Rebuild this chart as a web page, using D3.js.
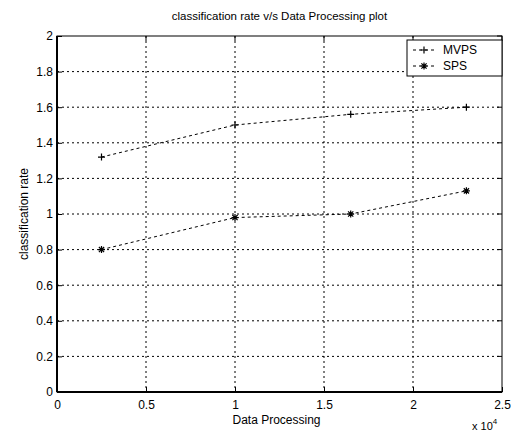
<!DOCTYPE html>
<html>
<head>
<meta charset="utf-8">
<script src="https://cdn.jsdelivr.net/npm/d3@7"></script>
<style>
  body{margin:0;background:#fff;}
  svg{display:block;font-family:"Liberation Sans",Arial,sans-serif;}
  .axis text{font-size:12px;fill:#000;}
</style>
</head>
<body>
<div id="chart"></div>
<script>
// data (x in units of 10^4)
const xVals=[0.25,1.0,1.65,2.3];
const mvps=[1.32,1.50,1.56,1.60];
const sps=[0.80,0.98,1.00,1.13];
const xTicks=[0,0.5,1,1.5,2,2.5];
const yTicks=[0,0.2,0.4,0.6,0.8,1,1.2,1.4,1.6,1.8,2];
const seriesNames=['MVPS','SPS'];

const W=512,H=431,m={t:36,r:10,b:39,l:57};
const w=W-m.l-m.r,h=H-m.t-m.b;
const svg=d3.select('#chart').append('svg').attr('width',W).attr('height',H);
const g=svg.append('g').attr('transform',`translate(${m.l},${m.t})`);
const x=d3.scaleLinear().domain([0,2.5]).range([0,w]);
const y=d3.scaleLinear().domain([0,2]).range([h,0]);

// grid
g.selectAll('.gx').data(xTicks.slice(1,-1)).join('line').attr('class','gx')
  .attr('x1',d=>x(d)).attr('x2',d=>x(d)).attr('y1',0).attr('y2',h)
  .attr('stroke','#000').attr('stroke-width',1).attr('stroke-dasharray','2,3');
g.selectAll('.gy').data(yTicks.slice(1,-1)).join('line').attr('class','gy')
  .attr('x1',0).attr('x2',w).attr('y1',d=>y(d)).attr('y2',d=>y(d))
  .attr('stroke','#000').attr('stroke-width',1).attr('stroke-dasharray','2,3');

// axes
const fmt=d=>d3.format('~g')(d);
const xa=g.append('g').attr('class','axis').attr('transform',`translate(0,${h})`)
  .call(d3.axisBottom(x).tickValues(xTicks).tickSize(-5).tickPadding(8).tickFormat(fmt));
const ya=g.append('g').attr('class','axis')
  .call(d3.axisLeft(y).tickValues(yTicks).tickSize(-5).tickPadding(4).tickFormat(fmt));
[xa,ya].forEach(a=>{a.select('.domain').remove();a.selectAll('line').attr('stroke','#000');});
// box
g.append('rect').attr('x',0).attr('y',0).attr('width',w).attr('height',h)
  .attr('fill','none').attr('stroke','#000').attr('stroke-width',1);
g.append('line').attr('x1',0).attr('x2',0).attr('y1',0).attr('y2',h).attr('stroke','#000').attr('stroke-width',2);
g.append('line').attr('x1',0).attr('x2',w).attr('y1',h).attr('y2',h).attr('stroke','#000').attr('stroke-width',2);
// top ticks / right ticks
g.selectAll('.tt').data(xTicks).join('line').attr('class','tt')
  .attr('x1',d=>x(d)).attr('x2',d=>x(d)).attr('y1',0).attr('y2',5).attr('stroke','#000');
g.selectAll('.rt').data(yTicks).join('line').attr('class','rt')
  .attr('x1',w-5).attr('x2',w).attr('y1',d=>y(d)).attr('y2',d=>y(d)).attr('stroke','#000');

// series
const line=d3.line().x(d=>x(d[0])).y(d=>y(d[1]));
function plus(sel,cx,cy){
  sel.append('path').attr('d',`M${cx-3.5},${cy}H${cx+3.5}M${cx},${cy-3.5}V${cy+3.5}`).attr('stroke','#000').attr('stroke-width',1.2);
}
function star(sel,cx,cy){
  sel.append('path').attr('d',`M${cx-3.5},${cy}H${cx+3.5}M${cx},${cy-3.5}V${cy+3.5}M${cx-2.6},${cy-2.6}L${cx+2.6},${cy+2.6}M${cx-2.6},${cy+2.6}L${cx+2.6},${cy-2.6}`).attr('stroke','#000').attr('stroke-width',1.2);
}
[[mvps,plus],[sps,star]].forEach(([vals,mk])=>{
  const pts=xVals.map((v,i)=>[v,vals[i]]);
  g.append('path').datum(pts).attr('d',line).attr('fill','none')
    .attr('stroke','#000').attr('stroke-width',1).attr('stroke-dasharray','3,3');
  pts.forEach(p=>mk(g,x(p[0]),y(p[1])));
});

// legend
const lx=w-95,ly=4;
const leg=g.append('g').attr('transform',`translate(${lx},${ly})`);
leg.append('rect').attr('x',0).attr('y',0).attr('width',95).attr('height',36)
  .attr('fill','#fff').attr('stroke','#000').attr('stroke-width',1);
[plus,star].forEach((mk,i)=>{
  const cy=10+i*16;
  leg.append('line').attr('x1',6).attr('x2',28).attr('y1',cy).attr('y2',cy)
    .attr('stroke','#000').attr('stroke-dasharray','3,3');
  mk(leg,17,cy);
  leg.append('text').attr('x',36).attr('y',cy+4).attr('font-size',12).text(seriesNames[i]);
});

// titles
svg.append('text').attr('x',m.l+w/2).attr('y',20).attr('text-anchor','middle')
  .attr('font-size',11.5).text('classification rate v/s Data Processing plot');
svg.append('text').attr('x',m.l+w/2-3).attr('y',424).attr('text-anchor','middle')
  .attr('font-size',12).text('Data Processing');
svg.append('text').attr('transform',`translate(28,${m.t+h/2}) rotate(-90)`)
  .attr('text-anchor','middle').attr('font-size',12).text('classification rate');
const e=svg.append('text').attr('x',472).attr('y',430).attr('font-size',11);
e.append('tspan').text('x 10');
e.append('tspan').attr('dy',-6).attr('font-size',8).text('4');
</script>
</body>
</html>
